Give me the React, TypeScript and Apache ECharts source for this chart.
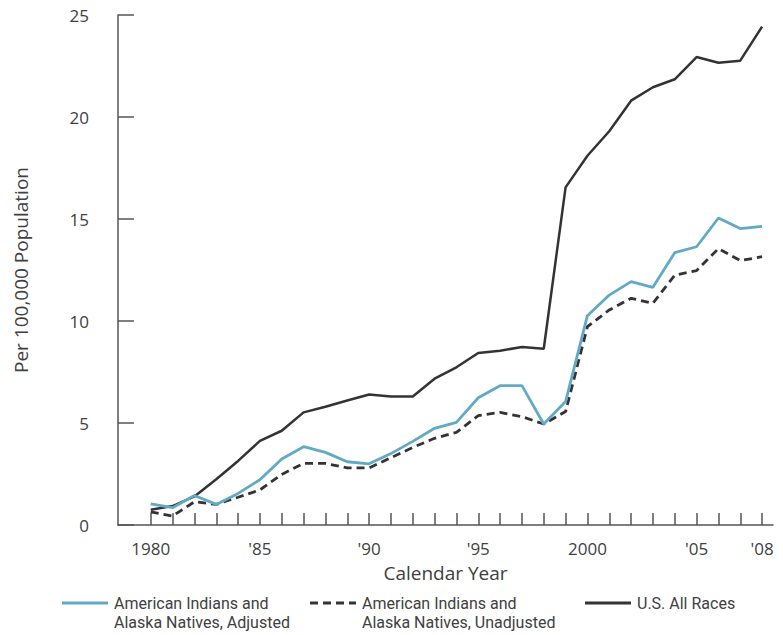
import React, { useEffect, useRef } from 'react';
import * as echarts from 'echarts';

const years = [
  '1979', '1980', '1981', '1982', '1983', '1984', '1985', '1986', '1987', '1988', '1989',
  '1990', '1991', '1992', '1993', '1994', '1995', '1996', '1997', '1998', '1999',
  '2000', '2001', '2002', '2003', '2004', '2005', '2006', '2007', '2008',
];

const tickLabels: Record<string, string> = {
  '1980': '1980', '1985': "'85", '1990': "'90", '1995': "'95", '2000': '2000', '2005': "'05", '2008': "'08",
};

const adjusted = [null,
  1.03, 0.85, 1.45, 1.01, 1.55, 2.22, 3.24, 3.84, 3.56, 3.1,
  3.0, 3.5, 4.1, 4.74, 5.03, 6.24, 6.83, 6.83, 4.95, 6.05,
  10.26, 11.27, 11.93, 11.65, 13.35, 13.64, 15.05, 14.53, 14.64];

const unadjusted = [null,
  0.64, 0.44, 1.14, 1.01, 1.36, 1.72, 2.48, 3.02, 3.02, 2.8,
  2.8, 3.3, 3.8, 4.25, 4.54, 5.36, 5.52, 5.31, 4.95, 5.56,
  9.72, 10.54, 11.11, 10.87, 12.25, 12.47, 13.55, 12.96, 13.15];

const usAllRaces = [null,
  0.75, 0.93, 1.4, 2.24, 3.14, 4.12, 4.62, 5.52, 5.8, 6.1,
  6.4, 6.3, 6.3, 7.17, 7.73, 8.43, 8.54, 8.73, 8.64, 16.55,
  18.1, 19.3, 20.8, 21.46, 21.85, 22.94, 22.66, 22.76, 24.43];

const LEGEND_ADJ = ['American Indians and', 'Alaska Natives, Adjusted'];
const LEGEND_UNADJ = ['American Indians and', 'Alaska Natives, Unadjusted'];
const LEGEND_US = ['U.S. All Races'];

const FONT = '"Open Sans", sans-serif';
const LEGEND_FONT = 'Roboto, sans-serif';
const TEXT = '#404040';
const AXIS = '#555555';
const BLUE = '#62a9c5';
const BLACK = '#333333';
const DASH = [8, 5];

function legendItem(lines: string[], left: number, color: string, dash: number[] | null) {
  return {
    type: 'group',
    children: [
      {
        type: 'line',
        shape: { x1: left, y1: 603, x2: left + 46, y2: 603 },
        style: { stroke: color, lineWidth: 2.8, lineDash: dash || undefined },
      },
      ...lines.map((line, i) => ({
        type: 'text',
        x: left + 52,
        y: 603.5 + i * 19,
        style: {
          text: line,
          font: `16px ${LEGEND_FONT}`,
          fill: TEXT,
          verticalAlign: 'middle',
          align: 'left',
        },
      })),
    ],
  };
}

export default function App() {
  const ref = useRef<HTMLDivElement>(null);
  useEffect(() => {
    if (!ref.current) return;
    const chart = echarts.init(ref.current, undefined, { renderer: 'svg' });
    chart.setOption({
      animation: false,
      backgroundColor: '#ffffff',
      textStyle: { fontFamily: FONT },
      grid: { left: 118, right: 10, top: 15, bottom: 110, containLabel: false },
      graphic: [
        legendItem(LEGEND_ADJ, 62, BLUE, null),
        legendItem(LEGEND_UNADJ, 310, BLACK, DASH),
        legendItem(LEGEND_US, 585, BLACK, null),
      ],
      xAxis: {
        type: 'category',
        data: years,
        boundaryGap: true,
        name: 'Calendar Year',
        nameLocation: 'middle',
        nameGap: 38,
        nameTextStyle: { fontFamily: FONT, fontSize: 19, color: TEXT },
        axisLine: { show: true, lineStyle: { color: AXIS, width: 1.5 } },
        axisTick: {
          show: true,
          inside: true,
          length: 12,
          alignWithLabel: true,
          interval: (index: number) => index > 0,
          lineStyle: { color: AXIS, width: 1.5 },
        },
        axisLabel: {
          interval: 0,
          margin: 15,
          fontFamily: FONT,
          fontSize: 17,
          color: TEXT,
          formatter: (v: string) => tickLabels[v] ?? '',
        },
        splitLine: { show: false },
      },
      yAxis: {
        type: 'value',
        min: 0,
        max: 25,
        interval: 5,
        name: 'Per 100,000 Population',
        nameLocation: 'middle',
        nameGap: 88,
        nameTextStyle: { fontFamily: FONT, fontSize: 19, color: TEXT },
        axisLine: { show: true, lineStyle: { color: AXIS, width: 1.5 } },
        axisTick: { show: true, inside: true, length: 16, lineStyle: { color: AXIS, width: 1.5 } },
        axisLabel: { margin: 29, fontFamily: FONT, fontSize: 17, color: TEXT },
        splitLine: { show: false },
      },
      series: [
        {
          name: 'U.S. All Races',
          type: 'line',
          data: usAllRaces,
          symbol: 'none',
          lineStyle: { color: BLACK, width: 2.5 },
          itemStyle: { color: BLACK },
        },
        {
          name: 'American Indians and Alaska Natives, Unadjusted',
          type: 'line',
          data: unadjusted,
          symbol: 'none',
          lineStyle: { color: BLACK, width: 2.8, type: DASH },
          itemStyle: { color: BLACK },
        },
        {
          name: 'American Indians and Alaska Natives, Adjusted',
          type: 'line',
          data: adjusted,
          symbol: 'none',
          lineStyle: { color: BLUE, width: 2.8 },
          itemStyle: { color: BLUE },
        },
      ],
    });
    return () => chart.dispose();
  }, []);
  return (
    <div
      ref={ref}
      style={{ position: 'fixed', left: 0, top: 0, width: 783, height: 635, background: '#fff' }}
    />
  );
}
